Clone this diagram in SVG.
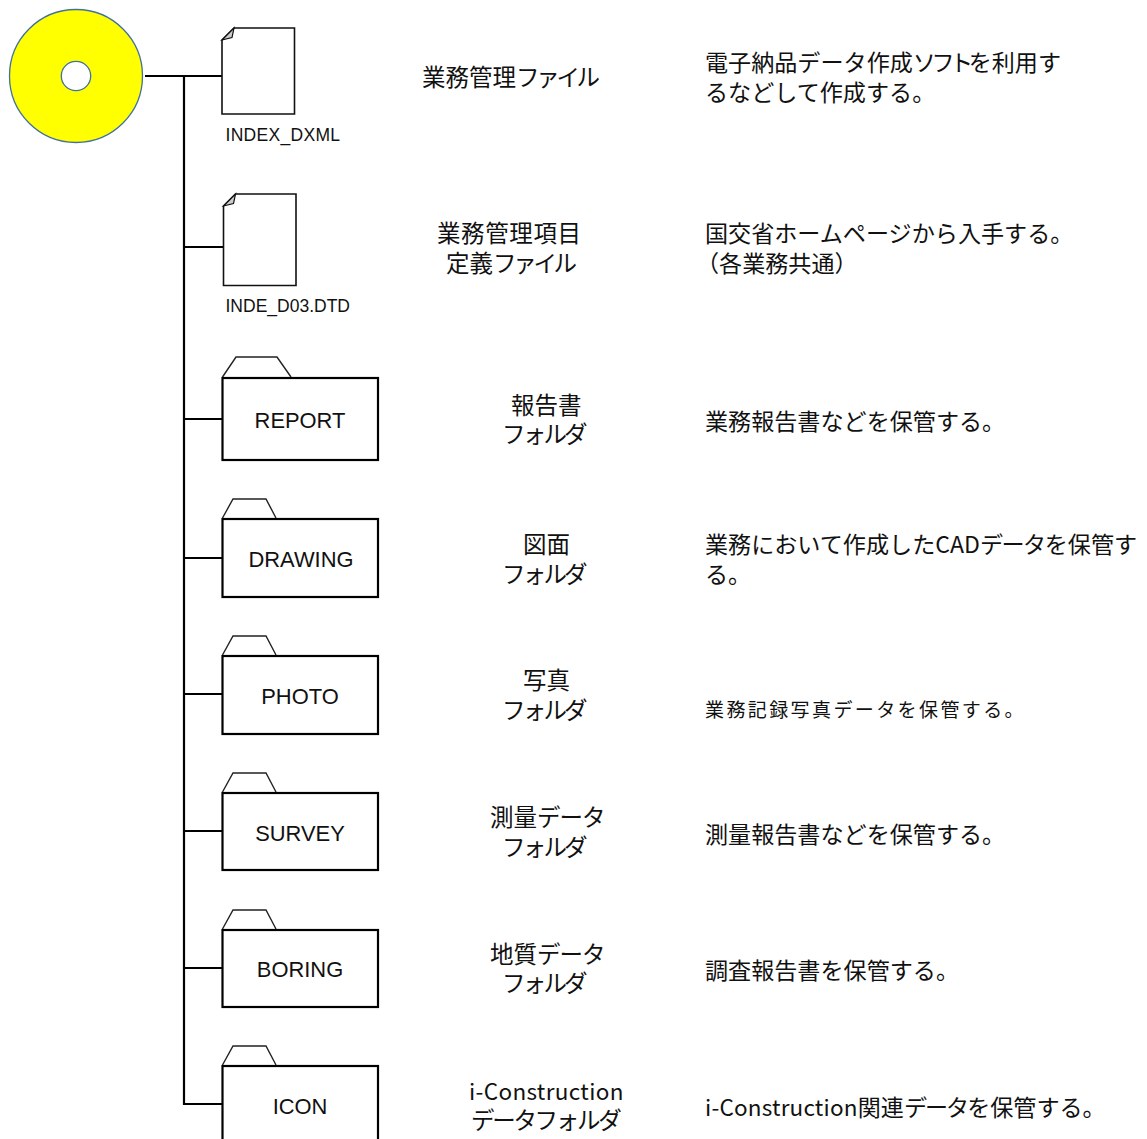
<svg xmlns="http://www.w3.org/2000/svg" width="1147" height="1139" viewBox="0 0 1147 1139">
<style>
text{font-family:"Noto Sans CJK JP","Noto Sans",sans-serif;font-size:23.5px;fill:#111}
#notes text{font-size:23.1px}
.l{font-family:"Liberation Sans",Arial,sans-serif;font-size:21.9px;text-anchor:middle}
.f{font-family:"Liberation Sans",Arial,sans-serif;font-size:17.5px}
.sh{fill:#fff;stroke:#111;stroke-width:1.6}
.tab{fill:#fff;stroke:#222;stroke-width:1.4}
.box{fill:#fff;stroke:#000;stroke-width:2.2}
.fold{fill:#ccc;stroke:#111;stroke-width:1.2}
.w{stroke:#000;stroke-width:2.2;fill:none}
.fk{letter-spacing:-2.8px}
.fa{letter-spacing:-3.3px}
.dt{letter-spacing:-1px}
</style>
<rect width="1147" height="1139" fill="#fff"/>
<g id="connectors">
<path class="w" d="M145 76H222M184 76V1104H222M184 247H223M184 419H222M184 558H222M184 694H222M184 831H222M184 968H222"/>
</g>
<g id="disc"><circle cx="76" cy="76" r="66.5" fill="#ff0" stroke="#41719c" stroke-width="1.3"/><circle cx="76" cy="76" r="14.7" fill="#fff" stroke="#41719c" stroke-width="1.3"/></g>
<g id="file1"><path class="sh" d="M234 28H294.500V114H222V40Z"/><path class="fold" d="M234 28L222 40L232 37.500Z"/><text class="f" x="225.500" y="141" style="letter-spacing:.3px">INDEX_DXML</text></g>
<g id="file2"><path class="sh" d="M235.500 194H296V285.500H223.500V206Z"/><path class="fold" d="M235.500 194L223.500 206L233.500 203.500Z"/><text class="f" x="225.500" y="312">INDE_D03.DTD</text></g>
<g id="report"><path class="tab" d="M222.500 377L236 357H277L291 377"/><rect class="box" x="222.500" y="378" width="155.500" height="82"/><text class="l" x="300" y="428">REPORT</text></g>
<g id="drawing"><path class="tab" d="M222.500 518L233 499H266L276 518"/><rect class="box" x="222.500" y="519" width="155.500" height="78"/><text class="l" x="301" y="567">DRAWING</text></g>
<g id="photo"><path class="tab" d="M222.500 655L233 636H266L276 655"/><rect class="box" x="222.500" y="656" width="155.500" height="78"/><text class="l" x="300" y="704">PHOTO</text></g>
<g id="survey"><path class="tab" d="M222.500 792L233 773H266L276 792"/><rect class="box" x="222.500" y="793" width="155.500" height="77"/><text class="l" x="300" y="841">SURVEY</text></g>
<g id="boring"><path class="tab" d="M222.500 929L233 910H266L276 929"/><rect class="box" x="222.500" y="930" width="155.500" height="77"/><text class="l" x="300" y="977">BORING</text></g>
<g id="icon"><path class="tab" d="M222.500 1065L233 1046H266L276 1065"/><rect class="box" x="222.500" y="1066" width="155.500" height="90"/><text class="l" x="300" y="1114">ICON</text></g>
<g id="names">
<text x="422" y="86">業務管理<tspan class="fa">ファイル</tspan></text>
<text x="437" y="242" style="letter-spacing:.6px">業務管理項目</text><text x="446" y="272">定義<tspan class="fa">ファイル</tspan></text>
<text x="511" y="414">報告書</text><text x="502" y="443" class="fk">フォルダ</text>
<text x="523" y="553">図面</text><text x="502" y="583" class="fk">フォルダ</text>
<text x="523" y="689">写真</text><text x="502" y="719" class="fk">フォルダ</text>
<text x="490" y="826">測量<tspan class="dt">データ</tspan></text><text x="502" y="856" class="fk">フォルダ</text>
<text x="490" y="963">地質<tspan class="dt">データ</tspan></text><text x="502" y="992" class="fk">フォルダ</text>
<text x="469" y="1100" style="font-size:22.5px;letter-spacing:.35px">i-Construction</text><text x="471" y="1129" style="letter-spacing:-2.3px">データフォルダ</text>
</g>
<g id="notes">
<text x="705" y="71">電子納品データ作成<tspan style="letter-spacing:-4.500px">ソフト</tspan>を利用す</text><text x="705" y="101">るなどして作成する。</text>
<text x="705" y="242">国交省ホームページから入手する。</text><text x="696" y="272">（各業務共通）</text>
<text x="705" y="430">業務報告書などを保管する。</text>
<text x="705" y="553">業務において作成したCAD<tspan style="letter-spacing:-1.500px">データ</tspan>を保管す</text><text x="705" y="583">る。</text>
<text x="705" y="717" style="font-size:19px;letter-spacing:2.400px">業務記録写真データを保管する。</text>
<text x="705" y="843">測量報告書などを保管する。</text>
<text x="705" y="979">調査報告書を保管する。</text>
<text x="705" y="1116"><tspan style="font-size:22.5px;letter-spacing:.2px">i-Construction</tspan>関連<tspan style="letter-spacing:-2px">データ</tspan>を保管する。</text>
</g>
</svg>
